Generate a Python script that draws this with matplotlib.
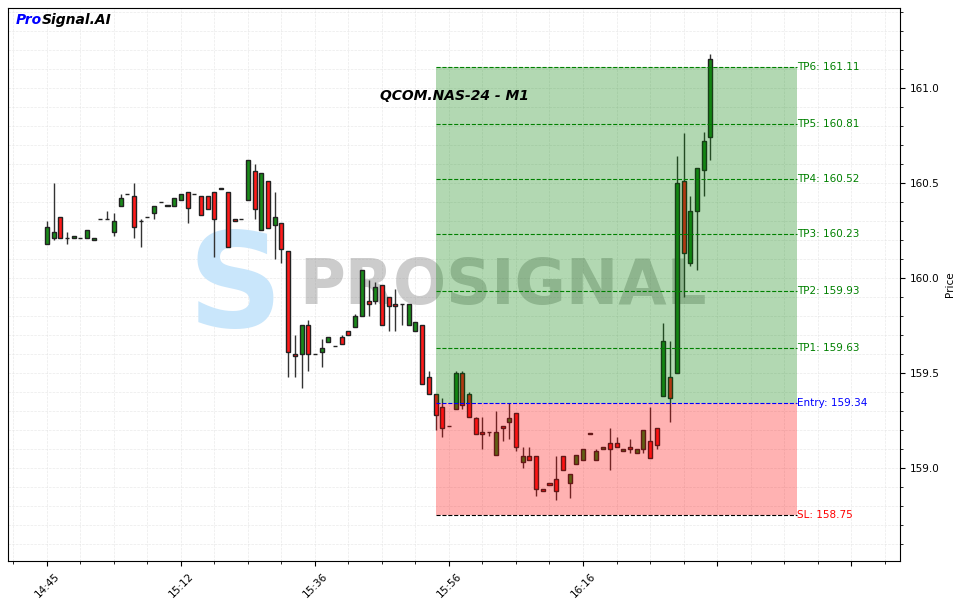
import numpy as np
import matplotlib
matplotlib.use("Agg")
from matplotlib import pyplot as plt
from matplotlib.ticker import MultipleLocator, FixedLocator

# 1-minute candles
opens = [160.18, 160.21, 160.32, 160.21, 160.21, 160.21, 160.21, 160.20, 160.31, 160.31,
         160.24, 160.38, 160.44, 160.43, 160.30, 160.32, 160.34, 160.40, 160.38, 160.38,
         160.41, 160.45, 160.44, 160.43, 160.43, 160.45, 160.47, 160.45, 160.31, 160.31,
         160.41, 160.56, 160.25, 160.51, 160.28, 160.29, 160.14, 159.60, 159.60, 159.75,
         159.60, 159.61, 159.66, 159.64, 159.69, 159.72, 159.74, 159.80, 159.88, 159.88,
         159.96, 159.90, 159.86, 159.86, 159.75, 159.72, 159.75, 159.48, 159.39, 159.32,
         159.22, 159.31, 159.50, 159.39, 159.26, 159.19, 159.19, 159.07, 159.22, 159.24,
         159.29, 159.03, 159.06, 159.06, 158.89, 158.92, 158.94, 159.06, 158.92, 159.02,
         159.04, 159.18, 159.04, 159.10, 159.13, 159.13, 159.09, 159.11, 159.08, 159.10,
         159.14, 159.21, 159.38, 159.48, 159.50, 160.51, 160.08, 160.35, 160.57, 160.74]
highs = [160.30, 160.50, 160.32, 160.24, 160.22, 160.21, 160.25, 160.21, 160.31, 160.35,
         160.34, 160.44, 160.44, 160.50, 160.31, 160.32, 160.38, 160.40, 160.38, 160.42,
         160.44, 160.45, 160.44, 160.43, 160.43, 160.45, 160.47, 160.45, 160.31, 160.31,
         160.62, 160.60, 160.55, 160.51, 160.45, 160.29, 160.14, 159.70, 159.75, 159.78,
         159.60, 159.68, 159.69, 159.64, 159.70, 159.72, 159.81, 160.04, 159.99, 159.98,
         159.96, 159.90, 159.94, 159.86, 159.86, 159.77, 159.75, 159.51, 159.39, 159.37,
         159.22, 159.51, 159.51, 159.40, 159.27, 159.27, 159.19, 159.30, 159.22, 159.34,
         159.29, 159.11, 159.11, 159.06, 158.89, 158.92, 159.06, 159.06, 158.97, 159.07,
         159.10, 159.18, 159.10, 159.11, 159.21, 159.16, 159.10, 159.15, 159.10, 159.20,
         159.32, 159.21, 159.76, 159.67, 160.64, 160.76, 160.43, 160.58, 160.77, 161.18]
lows = [160.18, 160.20, 160.21, 160.18, 160.21, 160.21, 160.21, 160.20, 160.31, 160.31,
        160.22, 160.38, 160.44, 160.21, 160.16, 160.32, 160.31, 160.40, 160.38, 160.38,
        160.41, 160.29, 160.44, 160.33, 160.36, 160.11, 160.47, 160.16, 160.30, 160.31,
        160.41, 160.31, 160.25, 160.26, 160.10, 160.08, 159.48, 159.48, 159.42, 159.51,
        159.60, 159.53, 159.66, 159.64, 159.65, 159.70, 159.74, 159.80, 159.80, 159.86,
        159.75, 159.72, 159.72, 159.75, 159.75, 159.72, 159.44, 159.39, 159.20, 159.16,
        159.22, 159.31, 159.31, 159.27, 159.18, 159.10, 159.17, 159.07, 159.14, 159.15,
        159.09, 159.00, 159.04, 158.85, 158.88, 158.91, 158.83, 158.99, 158.84, 159.02,
        159.04, 159.18, 159.04, 159.10, 158.99, 159.11, 159.09, 159.08, 159.08, 159.08,
        159.05, 159.10, 159.38, 159.24, 159.50, 159.90, 160.06, 160.04, 160.43, 160.62]
closes = [160.27, 160.24, 160.21, 160.21, 160.22, 160.21, 160.25, 160.21, 160.31, 160.31,
          160.30, 160.42, 160.44, 160.27, 160.30, 160.32, 160.38, 160.40, 160.38, 160.42,
          160.44, 160.37, 160.44, 160.33, 160.36, 160.31, 160.47, 160.16, 160.30, 160.31,
          160.62, 160.36, 160.55, 160.26, 160.32, 160.15, 159.61, 159.59, 159.75, 159.60,
          159.60, 159.63, 159.69, 159.64, 159.65, 159.70, 159.80, 160.04, 159.86, 159.95,
          159.75, 159.85, 159.85, 159.86, 159.86, 159.77, 159.44, 159.39, 159.28, 159.21,
          159.22, 159.50, 159.33, 159.27, 159.18, 159.18, 159.19, 159.19, 159.21, 159.26,
          159.11, 159.06, 159.04, 158.89, 158.88, 158.91, 158.88, 158.99, 158.97, 159.07,
          159.10, 159.18, 159.09, 159.11, 159.10, 159.11, 159.10, 159.10, 159.10, 159.20,
          159.05, 159.12, 159.67, 159.37, 160.50, 160.13, 160.35, 160.58, 160.72, 161.15]

tick_labels = ["14:45", "15:12", "15:36", "15:56", "16:16", "", ""]

entry = 159.34
stop_loss = 158.75
targets = [159.63, 159.93, 160.23, 160.52, 160.81, 161.11]

fig = plt.figure(figsize=(9.56, 6.03), dpi=100)
ax = fig.add_axes([8 / 956, 42 / 603, 892 / 956, 553 / 603])

idx = np.arange(len(opens))
o = np.array(opens)
c = np.array(closes)
up = c >= o
body_col = np.where(up, "#1a8a1a", "#ff1a1a")
body_h = np.maximum(np.abs(c - o), 0.001)

# wicks + bodies
ax.vlines(idx, lows, highs, color="#333333", linewidth=1, zorder=2)
ax.bar(idx, body_h, bottom=np.minimum(o, c), width=0.6, color=body_col,
       edgecolor="#222222", linewidth=1, zorder=3)

# trade zones drawn over the candles
x0, x1 = 58, 112
ax.fill_between([x0, x1], entry, targets[-1], color="green", alpha=0.3, linewidth=0, zorder=4)
ax.fill_between([x0, x1], stop_loss, entry, color="red", alpha=0.3, linewidth=0, zorder=4)

for i, lv in enumerate(targets):
    ax.hlines(lv, x0, x1, colors="green", linestyles="--", linewidth=0.8, zorder=5)
    ax.text(x1, lv, f"TP{i + 1}: {lv:.2f}", color="green", fontsize=7.5,
            va="center", ha="left", zorder=6)
ax.hlines(entry, x0, x1, colors="blue", linestyles="--", linewidth=0.8, zorder=5)
ax.text(x1, entry, f"Entry: {entry:.2f}", color="blue", fontsize=7.5, va="center", ha="left")
ax.hlines(stop_loss, x0, x1, colors="black", linestyles="--", linewidth=0.8, zorder=5)
ax.text(x1, stop_loss, f"SL: {stop_loss:.2f}", color="red", fontsize=7.5, va="center", ha="left")

# watermark
ax.text(0.555, 0.495, "PROSIGNAL", transform=ax.transAxes, fontsize=45, fontweight="bold",
        color="gray", alpha=0.4, ha="center", va="center", zorder=1)
ax.text(0.255, 0.49, "S", transform=ax.transAxes, fontsize=95, fontweight="bold",
        color="#c9e6fb", ha="center", va="center", zorder=1)

ax.text(0.5, 0.84, "QCOM.NAS-24 - M1", transform=ax.transAxes, fontsize=10,
        fontweight="bold", fontstyle="italic", ha="center", va="center", zorder=7)
ax.text(0.009, 0.978, "Pro", transform=ax.transAxes, fontsize=10, fontweight="bold",
        fontstyle="italic", color="blue", ha="left", va="center")
ax.text(0.0375, 0.978, "Signal.AI", transform=ax.transAxes, fontsize=10, fontweight="bold",
        fontstyle="italic", color="black", ha="left", va="center")

ax.set_xlim(-5.8, 127.3)
ax.set_ylim(158.51, 161.42)
ax.xaxis.set_major_locator(FixedLocator(np.arange(0, 121, 20)))
ax.set_xticklabels(tick_labels, rotation=45, fontsize=7.5)
ax.xaxis.set_minor_locator(MultipleLocator(5))
ax.yaxis.set_major_locator(MultipleLocator(0.5))
ax.yaxis.set_minor_locator(MultipleLocator(0.1))
ax.yaxis.tick_right()
ax.yaxis.set_label_position("right")
ax.set_ylabel("Price", fontsize=7.5)
ax.tick_params(axis="y", labelsize=7.5)
ax.grid(True, which="both", color="#dddddd", linestyle="--", linewidth=0.5, alpha=0.6)
ax.set_axisbelow(True)

fig.savefig("out.png", dpi=100)
